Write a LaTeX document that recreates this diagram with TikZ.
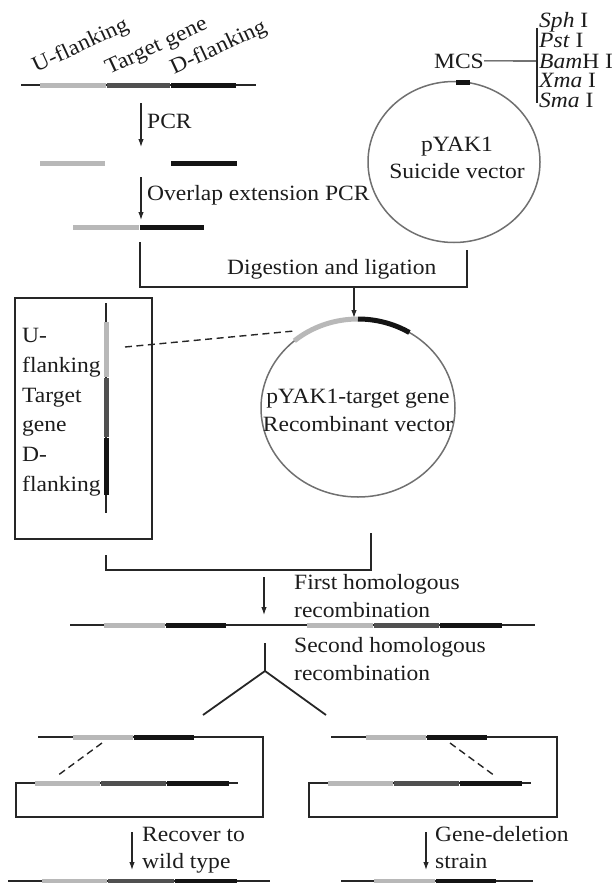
\documentclass[tikz,border=0pt]{standalone}
\usepackage{fontspec}
\setmainfont{Liberation Serif}[FakeStretch=1.08]
\usetikzlibrary{arrows.meta,shapes.geometric}
\definecolor{segU}{HTML}{B8B8B8}
\definecolor{segT}{HTML}{505050}
\definecolor{segD}{HTML}{141414}
\definecolor{ink}{HTML}{262626}
\definecolor{txt}{HTML}{1C1C1C}
\definecolor{ring}{HTML}{707070}
\begin{document}
\begin{tikzpicture}[x=1pt,y=-1pt,
  dnaline/.style={draw=ink,line width=1.1pt},
  useg/.style={draw=segU,line width=5pt},
  tseg/.style={draw=segT,line width=5pt},
  dseg/.style={draw=segD,line width=5pt},
  frame/.style={draw=ink,line width=1.5pt},
  arr/.style={draw=ink,line width=1.1pt,-{Latex[length=8pt,width=5.5pt]}},
  lbl/.style={inner sep=0pt,text=txt,font=\fontsize{21.8}{26}\selectfont},
  dashes/.style={draw=ink,line width=1.4pt,dash pattern=on 7pt off 4.5pt},
  plasmid/.style={ellipse,draw=ring,line width=1.5pt,inner sep=0pt}]
\useasboundingbox (0,0) rectangle (615,883);

% ---------- top gene ----------
\draw[dnaline] (21,85) -- (256,85);
\draw[useg] (40,85) -- (105.5,85);
\draw[tseg] (106.5,85) -- (170,85);
\draw[dseg] (171,85) -- (236,85);
\node[lbl,anchor=base west,rotate=25] (lu) at (36,73) {U-flanking};
\node[lbl,anchor=base west,rotate=25] (lt) at (109,75) {Target gene};
\node[lbl,anchor=base west,rotate=25] (ld) at (174,75) {D-flanking};

\coordinate (pcrA) at (141,103);
\coordinate (pcrB) at (141,147);
\draw[arr] (pcrA) -- (pcrB);
\node[lbl,anchor=base west] (pcr) at (147,128) {PCR};

\draw[useg] (40,163) -- (105,163);
\draw[dseg] (171,163) -- (237,163);

\coordinate (oeA) at (141,177);
\coordinate (oeB) at (141,220);
\draw[arr] (oeA) -- (oeB);
\node[lbl,anchor=base west] (oe) at (147,200) {Overlap extension PCR};

\draw[useg] (73,227) -- (139,227);
\draw[dseg] (139.5,227) -- (204,227);

% ---------- plasmid pYAK1 ----------
\node[plasmid,minimum width=172pt,minimum height=161pt] (p1) at (454,162) {};
\draw[dseg,line width=4.5pt] (456,82.5) -- (470,82.5);
\node[lbl,anchor=base] (p1a) at (457,151) {pYAK1};
\node[lbl,anchor=base] (p1b) at (457,178) {Suicide vector};
\node[lbl,anchor=base east] (mcs) at (484,68) {MCS};
\coordinate (mcsj) at (537,61);
\coordinate (mcst) at (537,28);
\coordinate (mcsb) at (537,103);
\draw[dnaline] (mcs.east) -- (mcsj);
\draw[dnaline] (mcst) -- (mcsb);
\node[lbl,anchor=base west] (e1) at (539,28) {\textit{Sph} I};
\node[lbl,anchor=base west] (e2) at (539,48) {\textit{Pst} I};
\node[lbl,anchor=base west] (e3) at (539,68) {\textit{Bam}H I};
\node[lbl,anchor=base west] (e4) at (539,88) {\textit{Xma} I};
\node[lbl,anchor=base west] (e5) at (539,107) {\textit{Sma} I};

% ---------- digestion bracket ----------
\coordinate (b1a) at (140,242);
\coordinate (b1c) at (467,287);
\coordinate (b1d) at (467,250);
\draw[frame] (b1a) |- (b1c) -- (b1d);
\node[lbl,anchor=base west] (dig) at (227,274) {Digestion and ligation};
\coordinate (a3s) at (354,287);
\coordinate (a3e) at (354,318);
\draw[arr] (a3s) -- (a3e);

% ---------- recombinant plasmid ----------
\node[plasmid,minimum width=194pt,minimum height=178pt] (p2) at (358,408) {};
\draw[useg] (p2.center) ++(270:97 and 89) arc[start angle=270,end angle=229,x radius=97,y radius=89];
\draw[dseg] (p2.center) ++(270:97 and 89) arc[start angle=270,end angle=302,x radius=97,y radius=89];
\node[lbl,anchor=base] (p2a) at (358,403) {pYAK1-target gene};
\node[lbl,anchor=base] (p2b) at (358,431) {Recombinant vector};

% ---------- inset box ----------
\node[frame,minimum width=137pt,minimum height=241pt,inner sep=0pt,anchor=north west] (box) at (14,297) {};
\draw[dnaline] (106,303) -- (106,513);
\draw[useg] (106,322) -- (106,376.5);
\draw[tseg] (106,377.5) -- (106,436.5);
\draw[dseg] (106,437.5) -- (106,495);
\node[lbl,anchor=base west] (bx1) at (22,342) {U-};
\node[lbl,anchor=base west] (bx2) at (22,372) {flanking};
\node[lbl,anchor=base west] (bx3) at (22,402) {Target};
\node[lbl,anchor=base west] (bx4) at (22,431) {gene};
\node[lbl,anchor=base west] (bx5) at (22,461) {D-};
\node[lbl,anchor=base west] (bx6) at (22,491) {flanking};
\coordinate (dashA) at (125,347);
\coordinate (dashB) at (294,331);
\draw[dashes] (dashA) -- (dashB);

% ---------- second bracket ----------
\coordinate (b2a) at (106,555);
\coordinate (b2c) at (371,570);
\coordinate (b2d) at (371,533);
\draw[frame] (b2a) |- (b2c) -- (b2d);
\coordinate (a4s) at (264,577);
\coordinate (a4e) at (264,615);
\draw[arr] (a4s) -- (a4e);
\node[lbl,anchor=base west] (fh1) at (294,589) {First homologous};
\node[lbl,anchor=base west] (fh2) at (294,617) {recombination};

% ---------- integrated chromosome ----------
\draw[dnaline] (70,625) -- (535,625);
\draw[useg] (104,625) -- (164.5,625);
\draw[dseg] (165.5,625) -- (226,625);
\draw[useg] (307,625) -- (373,625);
\draw[tseg] (374,625) -- (438.5,625);
\draw[dseg] (439.5,625) -- (502,625);
\node[lbl,anchor=base west] (sh1) at (294,652) {Second homologous};
\node[lbl,anchor=base west] (sh2) at (294,680) {recombination};

% ---------- fork ----------
\coordinate (ytop) at (265,643);
\coordinate (yj) at (265,671);
\coordinate (yl) at (203,715);
\coordinate (yr) at (326,715);
\draw[frame,line width=1.8pt] (ytop) -- (yj) -- (yl);
\draw[frame,line width=1.8pt] (yj) -- (yr);

% ---------- left loop ----------
\draw[frame,line width=1.3pt] (38,737) -- (263,737) -- (263,817) -- (16,817) -- (16,783) -- (238,783);
\draw[useg] (73,737) -- (132.5,737);
\draw[dseg] (133.5,737) -- (194,737);
\draw[useg] (35,783) -- (99.5,783);
\draw[tseg] (100.5,783) -- (165.5,783);
\draw[dseg] (166.5,783) -- (229,783);
\coordinate (ldA) at (102,743);
\coordinate (ldB) at (57,776);
\draw[dashes] (ldA) -- (ldB);
\coordinate (a5s) at (132,832);
\coordinate (a5e) at (132,870);
\draw[arr] (a5s) -- (a5e);
\node[lbl,anchor=base west] (rw1) at (142,841) {Recover to};
\node[lbl,anchor=base west] (rw2) at (142,868) {wild type};
\draw[dnaline] (8,881) -- (270,881);
\draw[useg] (42,881) -- (106.5,881);
\draw[tseg] (107.5,881) -- (173.5,881);
\draw[dseg] (174.5,881) -- (237,881);

% ---------- right loop ----------
\draw[frame,line width=1.3pt] (331,737) -- (557,737) -- (557,817) -- (309,817) -- (309,783) -- (531,783);
\draw[useg] (366,737) -- (425.5,737);
\draw[dseg] (426.5,737) -- (487,737);
\draw[useg] (328,783) -- (392.5,783);
\draw[tseg] (393.5,783) -- (458.5,783);
\draw[dseg] (459.5,783) -- (522,783);
\coordinate (rdA) at (450,743);
\coordinate (rdB) at (495,776);
\draw[dashes] (rdA) -- (rdB);
\coordinate (a6s) at (426,832);
\coordinate (a6e) at (426,870);
\draw[arr] (a6s) -- (a6e);
\node[lbl,anchor=base west] (gd1) at (435,841) {Gene-deletion};
\node[lbl,anchor=base west] (gd2) at (435,868) {strain};
\draw[dnaline] (341,881) -- (533,881);
\draw[useg] (374,881) -- (434.5,881);
\draw[dseg] (435.5,881) -- (496,881);
\end{tikzpicture}
\end{document}
